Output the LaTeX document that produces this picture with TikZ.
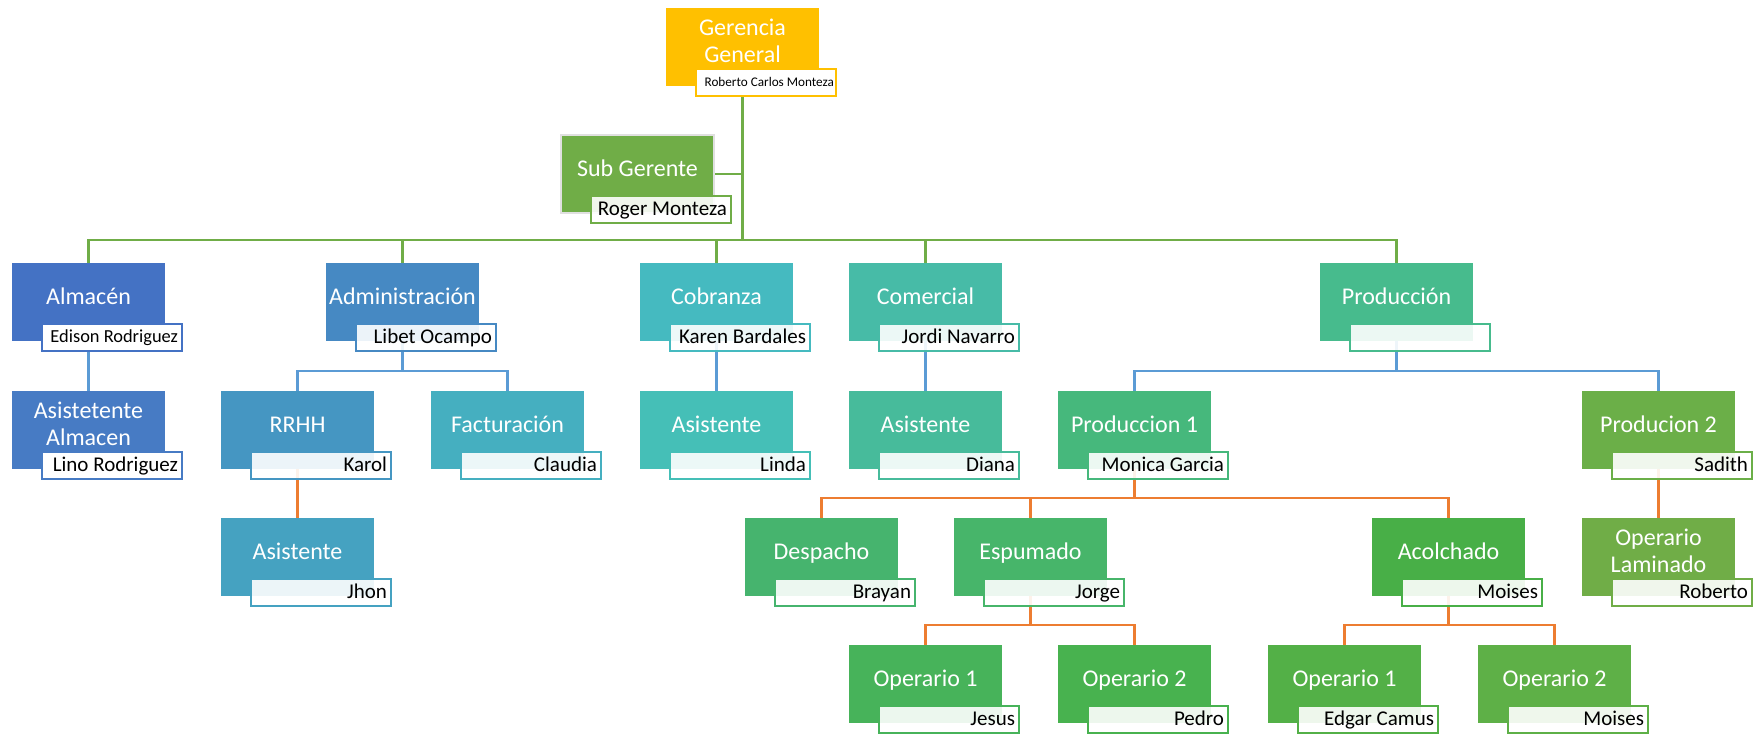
\documentclass[tikz,border=0pt]{standalone}
\usepackage{fontspec}
\setmainfont{Carlito}
\usetikzlibrary{positioning, calc}
\pgfdeclarelayer{background}
\pgfsetlayers{background,main}

% box colours
\definecolor{cGer}{HTML}{FFC000}
\definecolor{cSub}{HTML}{70AD47}
\definecolor{cAlm}{HTML}{4472C4}
\definecolor{cAsA}{HTML}{477BC4}
\definecolor{cAdm}{HTML}{4689C3}
\definecolor{cRrh}{HTML}{4596C2}
\definecolor{cJho}{HTML}{45A2C1}
\definecolor{cFac}{HTML}{45AFC0}
\definecolor{cCob}{HTML}{45BAC0}
\definecolor{cLin}{HTML}{45BFB7}
\definecolor{cCom}{HTML}{47BBA7}
\definecolor{cDia}{HTML}{47BB9B}
\definecolor{cPrd}{HTML}{47BB8D}
\definecolor{cPr1}{HTML}{46B87C}
\definecolor{cDes}{HTML}{46B46E}
\definecolor{cEsp}{HTML}{47B56A}
\definecolor{cOpA}{HTML}{47B35A}
\definecolor{cOpB}{HTML}{48B24F}
\definecolor{cAco}{HTML}{48AF47}
\definecolor{cOpC}{HTML}{53B047}
\definecolor{cOpD}{HTML}{5EB047}
\definecolor{cPr2}{HTML}{6BAF48}
\definecolor{cLam}{HTML}{70AD47}
% connector colours
\definecolor{lnGreen}{HTML}{70AD47}
\definecolor{lnBlue}{HTML}{5B9BD5}
\definecolor{lnOrange}{HTML}{ED7D31}

\begin{document}
\begin{tikzpicture}[
    x=0.5pt, y=-0.5pt,
    unit/.style={rectangle, inner sep=0pt, minimum width=76.5pt, minimum height=39pt},
    ttl/.style={text=white, font=\fontsize{12}{13.5}\selectfont, inner sep=0pt, text height=8.4pt, text depth=1.4pt},
    ttltwo/.style={text=white, font=\fontsize{12}{13.5}\selectfont, inner sep=0pt, align=center},
    who/.style={rectangle, line width=1pt, fill=white, fill opacity=0.9, text opacity=1, text=black, inner xsep=2pt, inner ysep=0pt, text width=66pt, align=flush right, minimum height=13.5pt, font=\fontsize{10.5}{12}\selectfont, text height=7.3pt, text depth=1.2pt},
    lnG/.style={draw=lnGreen, line width=1.1pt},
    lnB/.style={draw=lnBlue, line width=1.1pt},
    lnO/.style={draw=lnOrange, line width=1.1pt}
]
\useasboundingbox (0,0) rectangle (1764,736);

% ==================== Gerencia ====================
\node[unit, fill=cGer] (Ger) at (742.5,47) {};
\node[ttltwo] (Ger_t) at (742.5,41) {Gerencia\\General};
\node[who, draw=cGer, fill opacity=1, font=\fontsize{6.6}{8}\selectfont, inner xsep=1pt, text width=68pt, text height=4.7pt, text depth=0.8pt] (Ger_p) at (766,82.5) {Roberto Carlos Monteza};

\node[unit, fill=cSub, draw=black!12, line width=1pt] (Sub) at (637.5,174) {};
\node[ttl] (Sub_t) at (637.5,169) {Sub Gerente};
\node[who, draw=cSub] (Sub_p) at (661,209.5) {Roger Monteza};

% ==================== Row 1 ====================
\node[unit, fill=cAlm] (Alm) at (88.5,302) {};
\node[ttl] (Alm_t) at (88.5,297) {Almacén};
\node[who, draw=cAlm, fill opacity=1, font=\fontsize{9.2}{11}\selectfont, text height=6.4pt, text depth=1.1pt] (Alm_p) at (112,337.5) {Edison Rodriguez};

\node[unit, fill=cAdm] (Adm) at (402.5,302) {};
\node[ttl] (Adm_t) at (402.5,297) {Administración};
\node[who, draw=cAdm] (Adm_p) at (426,337.5) {Libet Ocampo};

\node[unit, fill=cCob] (Cob) at (716.5,302) {};
\node[ttl] (Cob_t) at (716.5,297) {Cobranza};
\node[who, draw=cCob] (Cob_p) at (740,337.5) {Karen Bardales};

\node[unit, fill=cCom] (Com) at (925.5,302) {};
\node[ttl] (Com_t) at (925.5,297) {Comercial};
\node[who, draw=cCom] (Com_p) at (949,337.5) {Jordi Navarro};

\node[unit, fill=cPrd] (Prd) at (1396.5,302) {};
\node[ttl] (Prd_t) at (1396.5,297) {Producción};
\node[who, draw=cPrd] (Prd_p) at (1420,337.5) {};

% ==================== Row 2 ====================
\node[unit, fill=cAsA] (AsA) at (88.5,430) {};
\node[ttltwo] (AsA_t) at (88.5,424) {Asistetente\\Almacen};
\node[who, draw=cAsA, fill opacity=1] (AsA_p) at (112,465.5) {Lino Rodriguez};

\node[unit, fill=cRrh] (Rrh) at (297.5,430) {};
\node[ttl] (Rrh_t) at (297.5,425) {RRHH};
\node[who, draw=cRrh] (Rrh_p) at (321,465.5) {Karol};

\node[unit, fill=cFac] (Fac) at (507.5,430) {};
\node[ttl] (Fac_t) at (507.5,425) {Facturación};
\node[who, draw=cFac] (Fac_p) at (531,465.5) {Claudia};

\node[unit, fill=cLin] (Lin) at (716.5,430) {};
\node[ttl] (Lin_t) at (716.5,425) {Asistente};
\node[who, draw=cLin] (Lin_p) at (740,465.5) {Linda};

\node[unit, fill=cDia] (Dia) at (925.5,430) {};
\node[ttl] (Dia_t) at (925.5,425) {Asistente};
\node[who, draw=cDia] (Dia_p) at (949,465.5) {Diana};

\node[unit, fill=cPr1] (Pr1) at (1134.5,430) {};
\node[ttl] (Pr1_t) at (1134.5,425) {Produccion 1};
\node[who, draw=cPr1] (Pr1_p) at (1158,465.5) {Monica Garcia};

\node[unit, fill=cPr2] (Pr2) at (1658.5,430) {};
\node[ttl] (Pr2_t) at (1658.5,425) {Producion 2};
\node[who, draw=cPr2] (Pr2_p) at (1682,465.5) {Sadith};

% ==================== Row 3 ====================
\node[unit, fill=cJho] (Jho) at (297.5,557) {};
\node[ttl] (Jho_t) at (297.5,552) {Asistente};
\node[who, draw=cJho] (Jho_p) at (321,592.5) {Jhon};

\node[unit, fill=cDes] (Des) at (821.5,557) {};
\node[ttl] (Des_t) at (821.5,552) {Despacho};
\node[who, draw=cDes] (Des_p) at (845,592.5) {Brayan};

\node[unit, fill=cEsp] (Esp) at (1030.5,557) {};
\node[ttl] (Esp_t) at (1030.5,552) {Espumado};
\node[who, draw=cEsp] (Esp_p) at (1054,592.5) {Jorge};

\node[unit, fill=cAco] (Aco) at (1448.5,557) {};
\node[ttl] (Aco_t) at (1448.5,552) {Acolchado};
\node[who, draw=cAco] (Aco_p) at (1472,592.5) {Moises};

\node[unit, fill=cLam] (Lam) at (1658.5,557) {};
\node[ttltwo] (Lam_t) at (1658.5,551) {Operario\\Laminado};
\node[who, draw=cLam] (Lam_p) at (1682,592.5) {Roberto};

% ==================== Row 4 ====================
\node[unit, fill=cOpA] (OpA) at (925.5,684) {};
\node[ttl] (OpA_t) at (925.5,679) {Operario 1};
\node[who, draw=cOpA] (OpA_p) at (949,719.5) {Jesus};

\node[unit, fill=cOpB] (OpB) at (1134.5,684) {};
\node[ttl] (OpB_t) at (1134.5,679) {Operario 2};
\node[who, draw=cOpB] (OpB_p) at (1158,719.5) {Pedro};

\node[unit, fill=cOpC] (OpC) at (1344.5,684) {};
\node[ttl] (OpC_t) at (1344.5,679) {Operario 1};
\node[who, draw=cOpC] (OpC_p) at (1368,719.5) {Edgar Camus};

\node[unit, fill=cOpD] (OpD) at (1554.5,684) {};
\node[ttl] (OpD_t) at (1554.5,679) {Operario 2};
\node[who, draw=cOpD] (OpD_p) at (1578,719.5) {Moises};

% ==================== Connections ====================
\coordinate (bus1) at (0,240);
\coordinate (bus2) at (0,371);
\coordinate (bus3) at (0,498);
\coordinate (bus4) at (0,625);

\begin{pgfonlayer}{background}
% Gerencia -> areas
\draw[lnG] (Sub.east) -- (Sub.east -| Ger.south);
\draw[lnG] (Ger.south) |- (Alm.north |- bus1) -- (Alm.north);
\draw[lnG] (Ger.south) |- (Adm.north |- bus1) -- (Adm.north);
\draw[lnG] (Ger.south) |- (Cob.north |- bus1) -- (Cob.north);
\draw[lnG] (Ger.south) |- (Com.north |- bus1) -- (Com.north);
\draw[lnG] (Ger.south) |- (Prd.north |- bus1) -- (Prd.north);

% areas -> row 2
\draw[lnB] (Alm.south) -- (AsA.north);
\draw[lnB] (Adm.south) |- (Rrh.north |- bus2) -- (Rrh.north);
\draw[lnB] (Adm.south) |- (Fac.north |- bus2) -- (Fac.north);
\draw[lnB] (Cob.south) -- (Lin.north);
\draw[lnB] (Com.south) -- (Dia.north);
\draw[lnB] (Prd.south) |- (Pr1.north |- bus2) -- (Pr1.north);
\draw[lnB] (Prd.south) |- (Pr2.north |- bus2) -- (Pr2.north);

% row 2 -> row 3
\draw[lnO] (Rrh.south) -- (Jho.north);
\draw[lnO] (Pr1.south) |- (Des.north |- bus3) -- (Des.north);
\draw[lnO] (Pr1.south) |- (Esp.north |- bus3) -- (Esp.north);
\draw[lnO] (Pr1.south) |- (Aco.north |- bus3) -- (Aco.north);
\draw[lnO] (Pr2.south) -- (Lam.north);

% row 3 -> row 4
\draw[lnO] (Esp.south) |- (OpA.north |- bus4) -- (OpA.north);
\draw[lnO] (Esp.south) |- (OpB.north |- bus4) -- (OpB.north);
\draw[lnO] (Aco.south) |- (OpC.north |- bus4) -- (OpC.north);
\draw[lnO] (Aco.south) |- (OpD.north |- bus4) -- (OpD.north);
\end{pgfonlayer}

\end{tikzpicture}
\end{document}
